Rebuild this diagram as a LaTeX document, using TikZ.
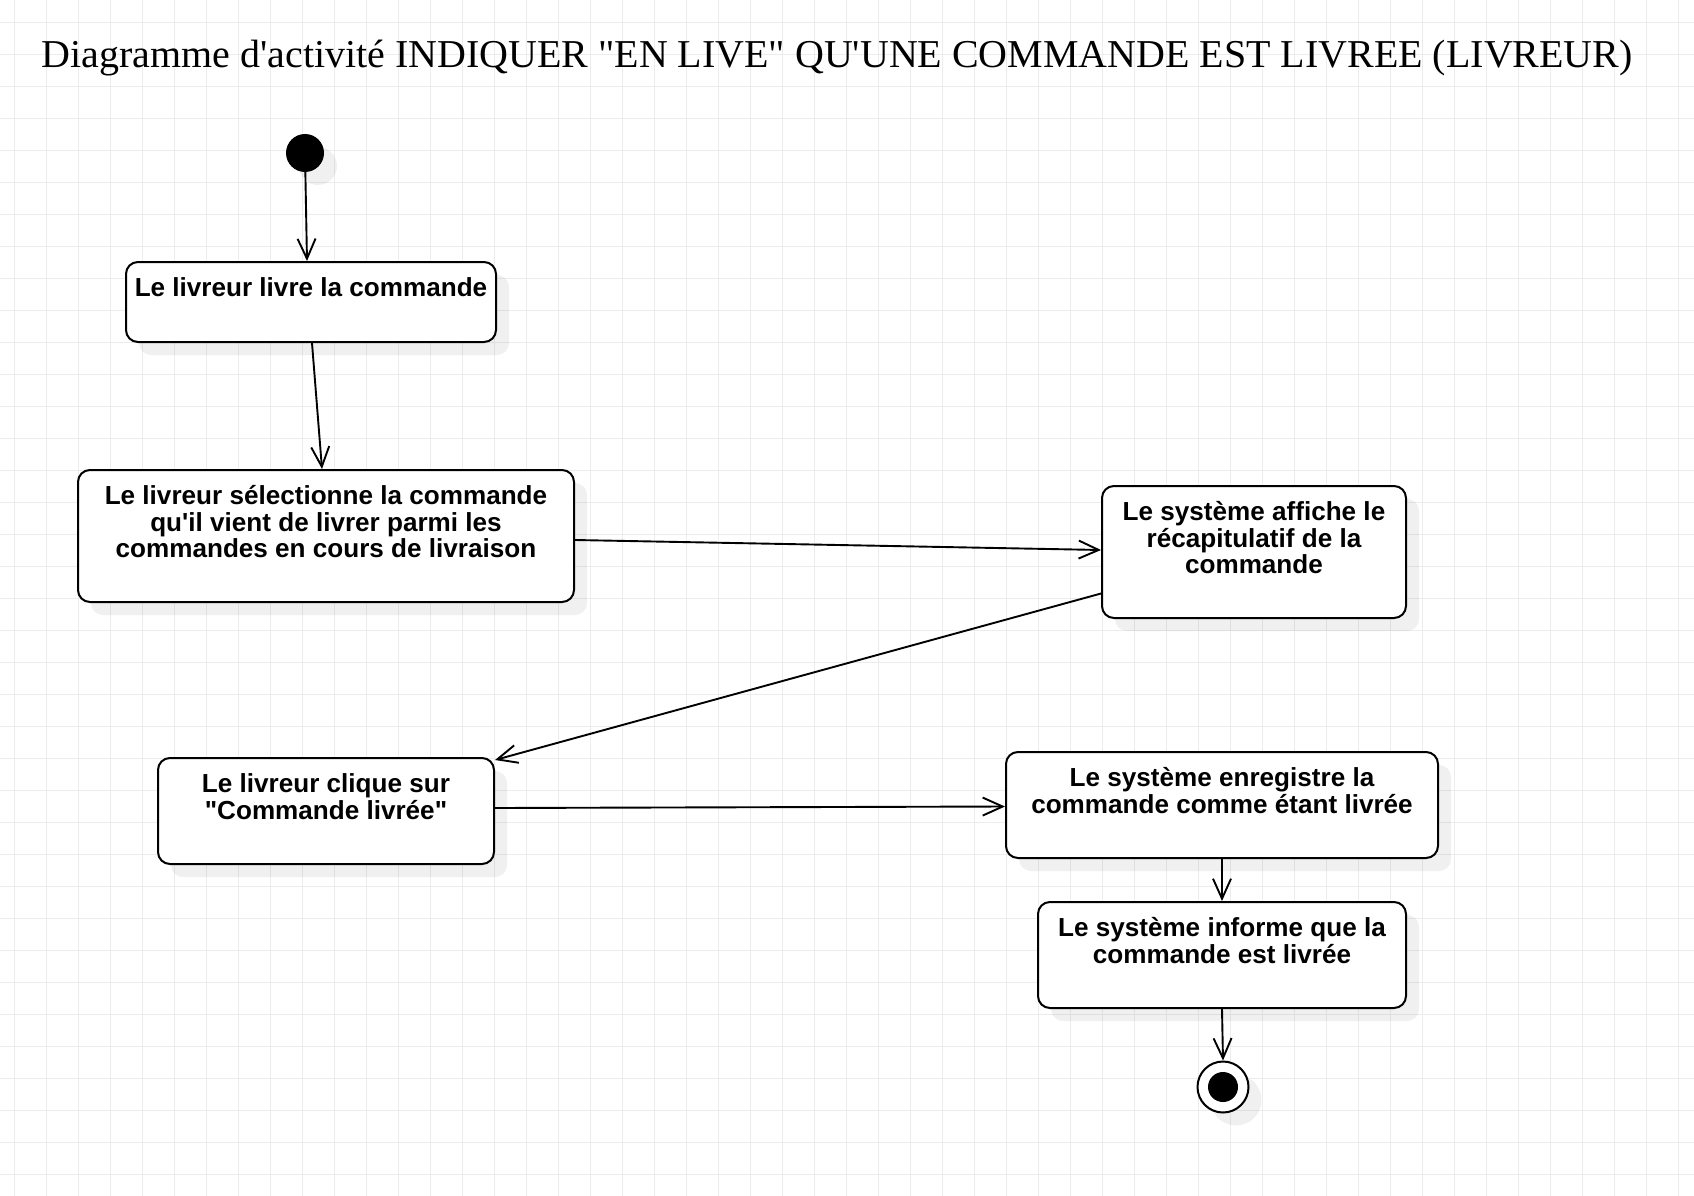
\documentclass[tikz,border=0pt]{standalone}
\usepackage{fontspec}
\newfontfamily\boxfont{Liberation Sans}
\newfontfamily\titleserif{Liberation Serif}
\usetikzlibrary{arrows.meta,shadows,calc}
\definecolor{gridc}{RGB}{236,236,236}
\newlength\titlewd
\newcommand\titletext{Diagramme d'activité INDIQUER "EN LIVE" QU'UNE COMMANDE EST LIVREE (LIVREUR)}
\tikzset{
  act/.style={rectangle, rounded corners=12pt, draw=black, line width=2pt, fill=white,
    drop shadow={shadow xshift=13pt, shadow yshift=-13pt, fill=black, opacity=0.06}},
  lbl/.style={anchor=north, inner sep=0pt, align=center,
    font=\boxfont\bfseries\fontsize{26.1}{26.3}\selectfont},
  startdot/.style={circle, fill=black, minimum size=38pt, inner sep=0pt,
    drop shadow={shadow xshift=13pt, shadow yshift=-13pt, fill=black, opacity=0.06}},
  enddot/.style={circle, draw=black, line width=2pt, fill=white, minimum size=51pt, inner sep=0pt,
    drop shadow={shadow xshift=13pt, shadow yshift=-13pt, fill=black, opacity=0.06}},
  flow/.style={draw=black, line width=1.9pt, -{Straight Barb[length=20pt,width=18pt,line width=1.9pt]}}
}
\begin{document}
\settowidth\titlewd{\titleserif\fontsize{39.5}{40}\selectfont\titletext}%
\pgfmathsetmacro\tf{1591/\titlewd}%
\begin{tikzpicture}[x=1pt, y=-1pt]
\useasboundingbox (0,0) rectangle (1694,1196);
\fill[white] (0,0) rectangle (1694,1196);
\foreach \i in {0,...,52} \draw[gridc, line width=1pt] ({14.3+32*\i},0) -- ({14.3+32*\i},1196);
\foreach \j in {0,...,36} \draw[gridc, line width=1pt] (0,{22.3+32*\j}) -- (1694,{22.3+32*\j});

% title
\node[anchor=base west, inner sep=0pt] (title) at (41.6,68) {\scalebox{\tf}[1]{\titleserif\fontsize{39.5}{40}\selectfont\titletext}};

% nodes
\node[startdot] (init) at (305,153) {};
\node[act, minimum width=370pt, minimum height=80pt] (b1) at (311,302) {};
\node[act, minimum width=496pt, minimum height=132pt] (b2) at (326,536) {};
\node[act, minimum width=304pt, minimum height=132pt] (b3) at (1254,552) {};
\node[act, minimum width=336pt, minimum height=106pt] (b4) at (326,811) {};
\node[act, minimum width=432pt, minimum height=106pt] (b5) at (1222,805) {};
\node[act, minimum width=368pt, minimum height=106pt] (b6) at (1222,955) {};
\node[enddot] (fin) at (1223,1087) {};
\fill[black] (fin.center) circle (15pt);

% labels
\node[lbl] (t1) at ([yshift=-14.5pt]b1.north) {\rule{0pt}{21pt}Le livreur livre la commande};
\node[lbl] (t2) at ([yshift=-14.5pt]b2.north) {\rule{0pt}{21pt}Le livreur sélectionne la commande\\qu'il vient de livrer parmi les\\commandes en cours de livraison};
\node[lbl] (t3) at ([yshift=-14.5pt]b3.north) {\rule{0pt}{21pt}Le système affiche le\\récapitulatif de la\\commande};
\node[lbl] (t4) at ([yshift=-14.5pt]b4.north) {\rule{0pt}{21pt}Le livreur clique sur\\"Commande livrée"};
\node[lbl] (t5) at ([yshift=-14.5pt]b5.north) {\rule{0pt}{21pt}Le système enregistre la\\commande comme étant livrée};
\node[lbl] (t6) at ([yshift=-14.5pt]b6.north) {\rule{0pt}{21pt}Le système informe que la\\commande est livrée};

% connectors
\draw[flow] (init) -- ([xshift=-4pt]b1.north);
\draw[flow] ([xshift=1pt]b1.south) -- ([xshift=-4pt]b2.north);
\draw[flow] ([yshift=-4pt]b2.east) -- ([yshift=2pt]b3.west);
\draw[flow] ([yshift=-41.5pt]b3.west) -- ([yshift=-3pt]b4.north east);
\draw[flow] ([yshift=3pt]b4.east) -- ([yshift=-1.5pt]b5.west);
\draw[flow] (b5.south) -- (b6.north);
\draw[flow] (b6.south) -- (fin.north);
\end{tikzpicture}
\end{document}
